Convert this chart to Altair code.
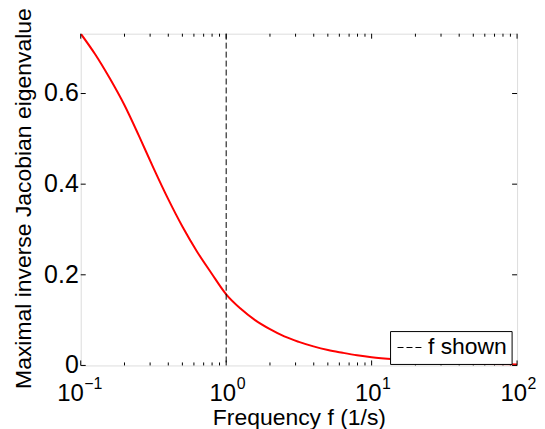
import altair as alt
import pandas as pd

# ---- data ----
freq = [0.1, 0.126, 0.158, 0.2, 0.251, 0.316, 0.398, 0.501, 0.631, 0.794,
        1.0, 1.26, 1.58, 2.0, 2.51, 3.16, 3.98, 5.01, 6.31, 7.94,
        10, 15.8, 25.1, 39.8, 63.1, 100]
value = [0.732, 0.686, 0.634, 0.574, 0.507, 0.436, 0.368, 0.306, 0.251, 0.203,
         0.157, 0.125, 0.100, 0.080, 0.064, 0.052, 0.042, 0.034, 0.028, 0.0225,
         0.018, 0.0125, 0.0082, 0.0053, 0.0034, 0.0022]

f_shown = [1.0]
legend_label = ["f shown"]

xtick_major = [0.1, 1, 10, 100]
xtick_exp = ["\u22121", "0", "1", "2"]
xtick_minor = [0.2, 0.3, 0.4, 0.5, 0.6, 0.7, 0.8, 0.9,
               2, 3, 4, 5, 6, 7, 8, 9,
               20, 30, 40, 50, 60, 70, 80, 90]
ytick_vals = [0, 0.2, 0.4, 0.6]
ytick_text = ["0", "0.2", "0.4", "0.6"]

W, H = 438, 333
FONT = "Liberation Sans"

curve_df = pd.DataFrame({"f": freq, "v": value})
shown_df = pd.DataFrame({"f": f_shown, "label": legend_label})
major_df = pd.DataFrame({"f": xtick_major, "e": xtick_exp})
minor_df = pd.DataFrame({"f": xtick_minor})
ytick_df = pd.DataFrame({"v": ytick_vals, "t": ytick_text})

xscale = alt.Scale(type="log", domain=[0.1, 100], nice=False)
yscale = alt.Scale(domain=[0, 0.732], nice=False, zero=False)

x_axis = alt.Axis(title="Frequency f (1/s)", labels=False, ticks=False, domain=False,
                  grid=False, titleFont=FONT, titleFontSize=23, titleFontWeight="normal",
                  titleColor="black", titleX=W / 2, titleY=59, titleBaseline="alphabetic",
                  titleAlign="center")
y_axis = alt.Axis(title="Maximal inverse Jacobian eigenvalue", labels=False,
                  ticks=False, domain=False, grid=False,
                  titleFont=FONT, titleFontSize=23, titleFontWeight="normal",
                  titleColor="black", titleX=-50, titleY=165, titleAngle=-90,
                  titleBaseline="alphabetic", titleAlign="center")

X = alt.X("f:Q", scale=xscale, axis=x_axis)
Y = alt.Y("v:Q", scale=yscale, axis=y_axis)

curve = alt.Chart(curve_df).mark_line(color="#ff0000", strokeWidth=2,
                                       interpolate="monotone", clip=True).encode(x=X, y=Y)

shown = alt.Chart(shown_df).mark_rule(strokeWidth=1, strokeDash=[6, 3]).encode(
    x=X,
    color=alt.Color("label:N", scale=alt.Scale(domain=legend_label, range=["black"]),
                    legend=alt.Legend(title=None, orient="none", legendX=310.5, legendY=298.5,
                                      strokeColor="black", fillColor="white", padding=4,
                                      labelFont=FONT, labelFontSize=23, labelColor="black",
                                      labelOffset=6, symbolOffset=3,
                                      symbolType="stroke", symbolSize=576,
                                      symbolStrokeWidth=1, symbolDash=[6, 3],
                                      symbolStrokeColor="black", cornerRadius=0)),
)

# inside ticks (MATLAB style), on all four sides
maj_b = alt.Chart(major_df).mark_rule(color="black", strokeWidth=1).encode(
    x=X, y=alt.value(H), y2=alt.value(H - 5))
maj_t = alt.Chart(major_df).mark_rule(color="black", strokeWidth=1).encode(
    x=X, y=alt.value(0), y2=alt.value(5))
min_b = alt.Chart(minor_df).mark_rule(color="black", strokeWidth=1).encode(
    x=X, y=alt.value(H), y2=alt.value(H - 3))
min_t = alt.Chart(minor_df).mark_rule(color="black", strokeWidth=1).encode(
    x=X, y=alt.value(0), y2=alt.value(3))
yt_l = alt.Chart(ytick_df).mark_rule(color="black", strokeWidth=1).encode(
    y=Y, x=alt.value(0), x2=alt.value(5))
yt_r = alt.Chart(ytick_df).mark_rule(color="black", strokeWidth=1).encode(
    y=Y, x=alt.value(W), x2=alt.value(W - 5))

# y tick labels
ylab = alt.Chart(ytick_df).mark_text(
    font=FONT, fontSize=25, align="right", baseline="middle", color="black"
).encode(y=Y, x=alt.value(-2), text="t:N")

# x tick labels as 10 with a raised exponent
base_neg = alt.Chart(major_df).transform_filter("datum.f < 1").mark_text(
    font=FONT, fontSize=24, align="right", baseline="alphabetic", dx=3, color="black"
).encode(x=X, y=alt.value(H + 35.5), text=alt.value("10"))
base_pos = alt.Chart(major_df).transform_filter("datum.f >= 1").mark_text(
    font=FONT, fontSize=24, align="right", baseline="alphabetic", dx=10, color="black"
).encode(x=X, y=alt.value(H + 35.5), text=alt.value("10"))
exp_neg = alt.Chart(major_df).transform_filter("datum.f < 1").mark_text(
    font=FONT, fontSize=16, align="left", baseline="alphabetic", dx=3.5, color="black"
).encode(x=X, y=alt.value(H + 24), text="e:N")
exp_pos = alt.Chart(major_df).transform_filter("datum.f >= 1").mark_text(
    font=FONT, fontSize=16, align="left", baseline="alphabetic", dx=10.5, color="black"
).encode(x=X, y=alt.value(H + 24), text="e:N")

chart = alt.layer(
    curve, shown, maj_b, maj_t, min_b, min_t, yt_l, yt_r, ylab,
    base_neg, base_pos, exp_neg, exp_pos
).properties(
    width=W, height=H,
    autosize=alt.AutoSizeParams(type="none"),
    padding={"left": 73, "top": 25, "right": 20, "bottom": 63},
).configure_view(
    stroke="black", strokeWidth=1
).configure(background="white")

chart.save("out.html", embed_options={"renderer": "svg", "actions": False})
